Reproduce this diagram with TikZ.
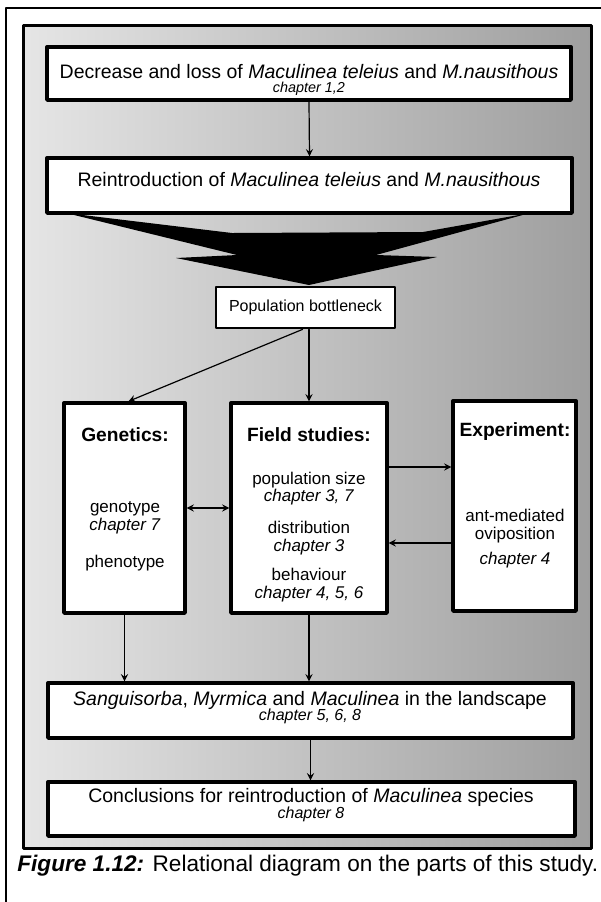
\documentclass[tikz,border=0pt]{standalone}
\usepackage{fontspec}
\setmainfont{Liberation Sans}

\begin{document}
\begin{tikzpicture}[
    x=0.5pt,y=-0.5pt,>=stealth,
    line cap=round,
    line join=round,
    panel/.style={draw,fill=white,line width=1.7pt,inner sep=0pt},
    txt/.style={inner sep=0pt,align=center},
    big/.style={txt,font=\fontsize{9.75}{11}\selectfont},
    chap/.style={txt,font=\fontsize{#1}{#1}\selectfont\itshape},
    chap/.default=8,
    head/.style={txt,font=\fontsize{9.6}{11}\selectfont\bfseries},
    body/.style={txt,font=\fontsize{8.5}{8.8}\selectfont},
    link/.style={->,line width=0.6pt},
]
\useasboundingbox (0,0) rectangle (601,902);
% page frame
\draw[line width=1.2pt] (6,902) -- (6,8) -- (601,8);
% photo behind the scheme
\shade[left color=black!10,right color=black!38] (23,25) rectangle (591,848);
\draw[line width=1.5pt] (23,25) rectangle (591,848);

% top boxes
\node[panel,minimum width=262pt,minimum height=26.5pt] (dec) at (309,73.5) {};
\node[big] (decT) at (309,72) {Decrease and loss of \textit{Maculinea teleius} and \textit{M.nausithous}};
\node[chap=7.2] (decC) at (309,89) {chapter 1,2};
\node[panel,minimum width=262.5pt,minimum height=27.5pt] (rei) at (309.5,185.5) {};
\node[big] (reiT) at (309,180) {Reintroduction of \textit{Maculinea teleius} and \textit{M.nausithous}};

% funnel
\fill (66,213) -- (232,233) -- (423,232) -- (530,213) -- (376,255) -- (437,257)
  -- (309,285) -- (176,258) -- (237,255) -- cycle;

\node[panel,line width=1.4pt,minimum width=89.5pt,minimum height=20.5pt,
  font=\fontsize{8}{9}\selectfont] (bot) at (305.5,307.5) {Population bottleneck};

% three columns
\node[panel,minimum width=60.5pt,minimum height=105pt] (gen) at (124.5,508) {};
\node[panel,minimum width=78pt,minimum height=105pt] (fld) at (309,508) {};
\node[panel,minimum width=61.5pt,minimum height=105pt] (exp) at (514.5,506) {};

\node[head] (genH) at (125,435) {Genetics:};
\node[body] (genA) at (125,517.5) {genotype\\\textit{chapter 7}};
\node[body] (genB) at (125,563) {phenotype};

\node[head] (fldH) at (309,435) {Field studies:};
\node[body] (fldA) at (309,488.5) {population size\\\textit{chapter 3, 7}};
\node[body] (fldB) at (309,538) {distribution\\\textit{chapter 3}};
\node[body] (fldC) at (309,585) {behaviour\\\textit{chapter 4, 5, 6}};

\node[head] (expH) at (515,432) {Experiment:};
\node[body] (expA) at (515,526) {ant-mediated\\oviposition};
\node[body] (expB) at (515,560) {\textit{chapter 4}};

% bottom boxes
\node[panel,minimum width=262.5pt,minimum height=27.5pt] (lan) at (310.5,710.5) {};
\node[big] (lanT) at (310,700) {\textit{Sanguisorba}, \textit{Myrmica} and \textit{Maculinea} in the landscape};
\node[chap] (lanC) at (310,716) {chapter 5, 6, 8};
\node[panel,minimum width=263.5pt,minimum height=27pt] (con) at (311.5,809) {};
\node[big] (conT) at (311,797) {Conclusions for reintroduction of \textit{Maculinea} species};
\node[chap] (conC) at (311,814) {chapter 8};

% arrows
\draw[link] (dec.south) -- (rei.north);
\draw[link] (bot.south -| fld.north) -- (fld.north);
\draw[link] ([xshift=-1.5pt]bot.south) -- ([xshift=2pt]gen.north);
\path ([yshift=20.5pt]fld.east) coordinate (fe1);
\path ([yshift=-17.5pt]fld.east) coordinate (fe2);
\draw[link] (fe1) -- (fe1 -| exp.west);
\draw[link] (fe2 -| exp.west) -- (fe2);
\draw[link,<->] (gen.east) -- (gen.east -| fld.west);
\draw[link] (gen.south) -- (gen.south |- lan.north);
\draw[link] (fld.south) -- (fld.south |- lan.north);
\draw[link] (lan.south) -- (lan.south |- con.north);

% caption
\node[anchor=west,inner sep=0pt,font=\fontsize{11.3}{13}\selectfont] (cap) at (17,866)
  {\textbf{\textit{Figure 1.12:}} Relational diagram on the parts of this study.};
\end{tikzpicture}
\end{document}
